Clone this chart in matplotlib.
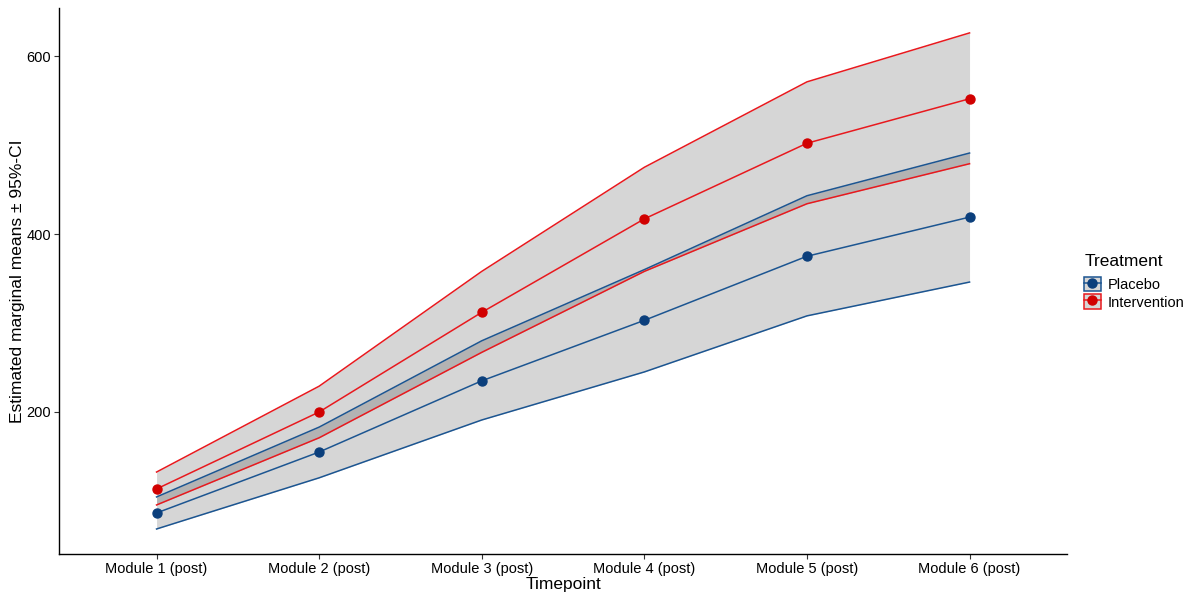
import numpy as np
import matplotlib.pyplot as plt
from matplotlib.patches import Patch
from matplotlib.lines import Line2D

plt.rcParams['font.family'] = ['Liberation Sans', 'DejaVu Sans']

# Estimated marginal means with 95% CI per module
timepoints = ['Module 1 (post)', 'Module 2 (post)', 'Module 3 (post)',
              'Module 4 (post)', 'Module 5 (post)', 'Module 6 (post)']

placebo_mean = [86.5, 155, 235, 303, 375, 419]
placebo_lower = [68.5, 126, 191, 245, 308, 346]
placebo_upper = [104.5, 183, 280, 360, 443, 491]

intervention_mean = [113.5, 200, 312, 417, 502, 552]
intervention_lower = [95.5, 171, 267, 358, 434, 479]
intervention_upper = [132.5, 229, 358, 475, 571, 626]

groups = [
    ('Placebo', placebo_mean, placebo_lower, placebo_upper, '#1C5591', '#0B3F7C'),
    ('Intervention', intervention_mean, intervention_lower, intervention_upper, '#E8191E', '#D10000'),
]

fig = plt.figure(figsize=(11.87, 5.92), dpi=100)
ax = fig.add_axes([0.0497, 0.0642, 0.8493, 0.9223])

x = np.arange(len(timepoints))
handles = []
for name, mean, lo, hi, line_col, pt_col in groups:
    ax.fill_between(x, lo, hi, color='black', alpha=0.16, linewidth=0)
    ax.plot(x, lo, color=line_col, lw=1.1)
    ax.plot(x, hi, color=line_col, lw=1.1)
    ax.plot(x, mean, color=line_col, lw=1.1)
    ax.scatter(x, mean, color=pt_col, s=42, zorder=3)
    handles.append((Patch(facecolor='#D6D6D6', edgecolor=line_col, lw=1.1),
                    Line2D([], [], color=line_col, lw=1.1, marker='o',
                           markersize=6.5, markerfacecolor=pt_col,
                           markeredgecolor=pt_col)))

ax.set_xlim(-0.6, 5.6)
ax.set_ylim(40.4, 654)
ax.set_xticks(x)
ax.set_xticklabels(timepoints)
ax.set_yticks([200, 400, 600])

for side in ['top', 'right']:
    ax.spines[side].set_visible(False)
for side in ['left', 'bottom']:
    ax.spines[side].set_color('black')
    ax.spines[side].set_linewidth(1.0)
ax.tick_params(axis='both', colors='#333333', labelcolor='black',
               labelsize=10.5, length=3.5, width=0.8, pad=2)

ax.set_xlabel('Timepoint', fontsize=12.5, labelpad=1)
ax.set_ylabel('Estimated marginal means ± 95%-CI', fontsize=12.5, labelpad=1)

# legend: title drawn separately so the gap above the keys can be set
fig.text(1085 / 1187, 1 - 261 / 592, 'Treatment', fontsize=12.5,
         ha='left', va='center')
fig.legend(handles, ['Placebo', 'Intervention'],
           loc='upper left', bbox_to_anchor=(1084 / 1187, 1 - 277 / 592),
           frameon=False, fontsize=10.5, borderpad=0,
           handlelength=1.15, handleheight=1.15, handletextpad=0.45,
           labelspacing=0.15, borderaxespad=0)

fig.savefig('out.png', dpi=100)
